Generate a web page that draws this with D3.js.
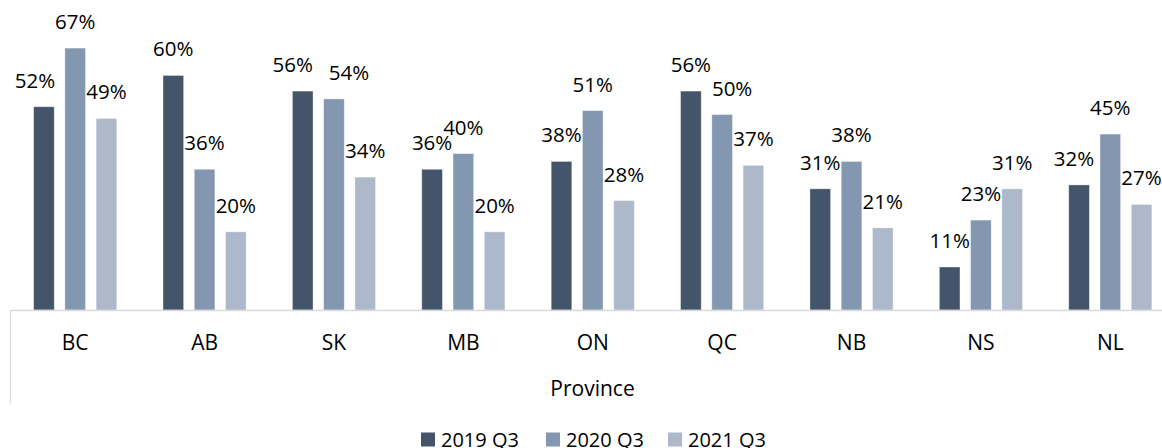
<!DOCTYPE html>
<html>
<head>
<meta charset="utf-8">
<script src="https://cdn.jsdelivr.net/npm/d3@7"></script>
<style>
	body { margin: 0; background: #fff; }
	svg { display: block; font-family: "Open Sans", sans-serif; }
	.value-label { font-size: 20.5px; fill: #000; text-anchor: middle; }
	.cat-label { font-size: 21px; fill: #000; text-anchor: middle; }
	.axis-title { font-size: 21px; fill: #000; text-anchor: middle; }
	.legend-label { font-size: 20px; fill: #000; }
</style>
</head>
<body>
<svg></svg>
<script>
const provinces = ["BC", "AB", "SK", "MB", "ON", "QC", "NB", "NS", "NL"];
const seriesNames = ["2019 Q3", "2020 Q3", "2021 Q3"];
const values2019 = [52, 60, 56, 36, 38, 56, 31, 11, 32];
const values2020 = [67, 36, 54, 40, 51, 50, 38, 23, 45];
const values2021 = [49, 20, 34, 20, 28, 37, 21, 31, 27];
const colors = ["#44546a", "#8497b0", "#adb9ca"];

// a few labels were hand-nudged sideways in the original
const labelNudge = { "BC|2019 Q3": -9, "SK|2019 Q3": -10, "SK|2020 Q3": 15, "QC|2020 Q3": 10, "NL|2019 Q3": -5 };

const SVGsize = { w: 1162, h: 448 };
const plot = { left: 10.5, right: 1175, base: 310 };

const svg = d3.select("svg").attr("width", SVGsize.w).attr("height", SVGsize.h);

const allValues = [values2019, values2020, values2021];
const data = provinces.map((p, i) => ({
	province: p,
	bars: seriesNames.map((s, j) => ({ province: p, series: s, value: allValues[j][i], idx: j })),
}));

const scaleX = d3.scaleBand().domain(provinces).range([plot.left, plot.right]).padding(0);
const scaleSub = d3
	.scaleBand()
	.domain(seriesNames)
	.range([0, scaleX.bandwidth()])
	.paddingInner(0.34)
	.paddingOuter(0.74);
const scaleY = d3.scaleLinear().domain([0, 79.3]).range([plot.base, 0]);

const groups = svg
	.selectAll("g.group")
	.data(data)
	.join("g")
	.attr("class", "group")
	.attr("transform", (d) => `translate(${scaleX(d.province)}, 0)`);

groups
	.selectAll("rect")
	.data((d) => d.bars)
	.join("rect")
	.attr("x", (d) => scaleSub(d.series))
	.attr("y", (d) => scaleY(d.value))
	.attr("width", scaleSub.bandwidth())
	.attr("height", (d) => scaleY(0) - scaleY(d.value))
	.attr("fill", (d) => colors[d.idx])
	.attr("stroke", "#ffffff")
	.attr("stroke-opacity", 0.45)
	.attr("stroke-width", 0.8);

groups
	.selectAll("text.value-label")
	.data((d) => d.bars)
	.join("text")
	.attr("class", "value-label")
	.attr("x", (d) => scaleSub(d.series) + scaleSub.bandwidth() / 2 + (labelNudge[d.province + "|" + d.series] || 0))
	.attr("y", (d) => scaleY(d.value) - 19)
	.text((d) => d.value + "%");

// axis lines
svg.append("line")
	.attr("x1", plot.left)
	.attr("x2", SVGsize.w)
	.attr("y1", plot.base + 0.5)
	.attr("y2", plot.base + 0.5)
	.attr("stroke", "#d9d9d9")
	.attr("stroke-width", 1.5);
svg.append("line")
	.attr("x1", plot.left)
	.attr("x2", plot.left)
	.attr("y1", plot.base)
	.attr("y2", 403.5)
	.attr("stroke", "#d9d9d9")
	.attr("stroke-width", 1.2);

svg.selectAll("text.cat-label")
	.data(provinces)
	.join("text")
	.attr("class", "cat-label")
	.attr("x", (d) => scaleX(d) + scaleX.bandwidth() / 2)
	.attr("y", 349.5)
	.text((d) => d);

svg.append("text")
	.attr("class", "axis-title")
	.attr("x", 592.5)
	.attr("y", 396)
	.text("Province");

// legend
const legendX = [421, 546, 668];
const legend = svg
	.selectAll("g.legend")
	.data(seriesNames)
	.join("g")
	.attr("class", "legend")
	.attr("transform", (d, i) => `translate(${legendX[i]}, 432.5)`);
legend.append("rect")
	.attr("width", 14)
	.attr("height", 14)
	.attr("fill", (d, i) => colors[i]);
legend.append("text")
	.attr("class", "legend-label")
	.attr("x", 20)
	.attr("y", 14)
	.text((d) => d);
</script>
</body>
</html>
